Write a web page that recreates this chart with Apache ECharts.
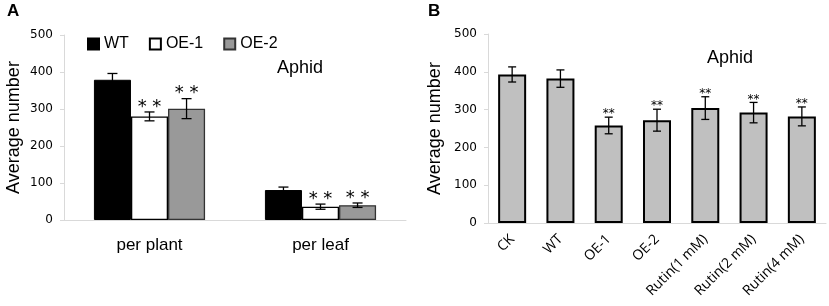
<!DOCTYPE html>
<html><head><meta charset="utf-8">
<script src="https://cdn.jsdelivr.net/npm/echarts@6/dist/echarts.min.js"></script>
<style>html,body{margin:0;padding:0;background:#fff}#c{width:829px;height:306px}</style>
</head><body><div id="c"></div>
<script>
// Panel A
const catsA = ['per plant', 'per leaf'];
const wtA = [379, 81];
const wtErrA = [17, 8];
const oe1A = [280, 36];
const oe1ErrA = [12, 7];
const oe2A = [301, 40];
const oe2ErrA = [27, 6];
const oe1StarsA = ['* *', '* *'];
const oe2StarsA = ['* *', '* *'];
// Panel B
const catsB = ['CK', 'WT', 'OE-1', 'OE-2', 'Rutin(1 mM)', 'Rutin(2 mM)', 'Rutin(4 mM)'];
const valsB = [393, 382, 258, 272, 304, 292, 282];
const errB = [20, 23, 22, 29, 30, 27, 25];
const starsB = ['', '', '**', '**', '**', '**', '**'];
const yTicks = [0, 100, 200, 300, 400, 500];

const chart = echarts.init(document.getElementById('c'));
const axisCol = '#d9d9d9';
const tickFont = {fontFamily: 'DejaVu Sans', fontSize: 12, color: '#000'};

function errSeries(xi, yi, vals, errs, stars, k, n, fracBar, cap, starFont, starGap) {
  return {
    type: 'custom', xAxisIndex: xi, yAxisIndex: yi, z: 10,
    data: vals.map((v, i) => [i, v, errs[i]]),
    renderItem: function (params, api) {
      const i = api.value(0), v = api.value(1), e = api.value(2);
      const st = stars[params.dataIndex];
      const catW = api.size([1, 0])[0];
      const barW = catW * fracBar / n;
      const base = api.coord([i, v]);
      const x = base[0] + (k - (n - 1) / 2) * barW;
      const top = api.coord([i, v + e])[1];
      const bot = api.coord([i, v - e])[1];
      const ls = {stroke: '#000', lineWidth: 1.3};
      const ch = [
        {type: 'line', shape: {x1: x, y1: top, x2: x, y2: bot}, style: ls},
        {type: 'line', shape: {x1: x - cap, y1: top, x2: x + cap, y2: top}, style: ls},
        {type: 'line', shape: {x1: x - cap, y1: bot, x2: x + cap, y2: bot}, style: ls}
      ];
      if (st) ch.push({type: 'text', x: x, y: top - starGap,
        style: {text: st, font: starFont, fill: '#000', align: 'center', verticalAlign: 'bottom'}});
      return {type: 'group', children: ch};
    }
  };
}

const option = {
  animation: false,
  textStyle: {fontFamily: 'Liberation Sans'},
  graphic: [
    {type: 'text', left: 7, top: 3, style: {text: 'A', font: 'bold 17px Liberation Sans', fill: '#000'}},
    {type: 'text', left: 428, top: 3, style: {text: 'B', font: 'bold 17px Liberation Sans', fill: '#000'}},
    {type: 'text', left: 277, top: 59, style: {text: 'Aphid', font: '18px Liberation Sans', fill: '#000'}},
    {type: 'text', left: 707, top: 49, style: {text: 'Aphid', font: '18px Liberation Sans', fill: '#000'}}
  ],
  legend: {
    data: ['WT', 'OE-1', 'OE-2'], left: 82, top: 31, icon: 'rect',
    itemWidth: 11, itemHeight: 11, itemGap: 20,
    textStyle: {fontSize: 16, fontFamily: 'Liberation Sans', color: '#000'}
  },
  grid: [
    {left: 64, right: 423, top: 35, bottom: 86},
    {left: 488, right: 3, top: 34, bottom: 83}
  ],
  xAxis: [
    {type: 'category', gridIndex: 0, data: catsA,
      axisLine: {lineStyle: {color: axisCol}}, axisTick: {length: 5, lineStyle: {color: axisCol}},
      axisLabel: {fontSize: 17, fontFamily: 'Liberation Sans', color: '#000', margin: 17}},
    {type: 'category', gridIndex: 1, data: catsB,
      axisLine: {lineStyle: {color: axisCol}}, axisTick: {length: 5, lineStyle: {color: axisCol}},
      axisLabel: {fontSize: 14, fontFamily: 'Open Sans', color: '#000', rotate: 45, margin: 14, interval: 0}}
  ],
  yAxis: [
    {type: 'value', gridIndex: 0, min: 0, max: 500, interval: 100,
      name: 'Average number', nameLocation: 'middle', nameGap: 41,
      nameTextStyle: {fontSize: 18, fontFamily: 'Liberation Sans', color: '#000'},
      axisLine: {show: true, lineStyle: {color: axisCol}}, axisTick: {show: true, length: 4, lineStyle: {color: axisCol}},
      splitLine: {show: false}, axisLabel: Object.assign({margin: 11}, tickFont)},
    {type: 'value', gridIndex: 1, min: 0, max: 500, interval: 100,
      name: 'Average number', nameLocation: 'middle', nameGap: 44,
      nameTextStyle: {fontSize: 18, fontFamily: 'Liberation Sans', color: '#000'},
      axisLine: {show: true, lineStyle: {color: axisCol}}, axisTick: {show: true, length: 4, lineStyle: {color: axisCol}},
      splitLine: {show: false}, axisLabel: Object.assign({margin: 11}, tickFont)}
  ],
  series: [
    {name: 'WT', type: 'bar', xAxisIndex: 0, yAxisIndex: 0, data: wtA, barGap: '0%', barCategoryGap: '35%',
      itemStyle: {color: '#000', borderColor: '#000', borderWidth: 1}},
    {name: 'OE-1', type: 'bar', xAxisIndex: 0, yAxisIndex: 0, data: oe1A,
      itemStyle: {color: '#fff', borderColor: '#000', borderWidth: 1.3}},
    {name: 'OE-2', type: 'bar', xAxisIndex: 0, yAxisIndex: 0, data: oe2A,
      itemStyle: {color: '#999', borderColor: '#333', borderWidth: 1.3}},
    errSeries(0, 0, wtA, wtErrA, ['', ''], 0, 3, 0.65, 5, '18px DejaVu Sans', 0),
    errSeries(0, 0, oe1A, oe1ErrA, oe1StarsA, 1, 3, 0.65, 5, '18px DejaVu Sans', -4),
    errSeries(0, 0, oe2A, oe2ErrA, oe2StarsA, 2, 3, 0.65, 5, '18px DejaVu Sans', -4),
    {name: 'B', type: 'bar', xAxisIndex: 1, yAxisIndex: 1, data: valsB, barWidth: '58%',
      itemStyle: {color: '#c0c0c0', borderColor: '#000', borderWidth: 2}},
    errSeries(1, 1, valsB, errB, starsB, 0, 1, 0.58, 4, '12px DejaVu Sans', -3)
  ]
};
chart.setOption(option);
</script></body></html>
